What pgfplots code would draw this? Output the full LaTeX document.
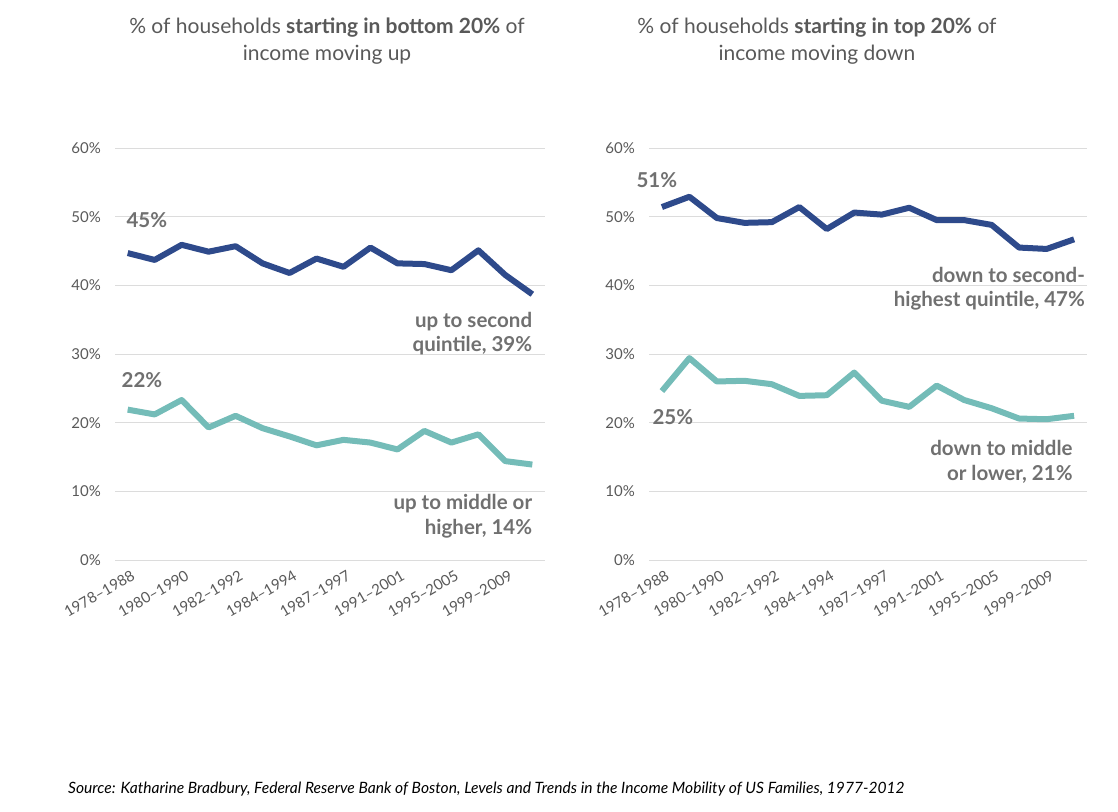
\documentclass[border=0pt]{standalone}
\usepackage{fontspec}
\setmainfont{Lato}
\usepackage{pgfplots}
\usepackage{pgfplotstable}
\pgfplotsset{compat=1.18}

\definecolor{darkblue}{HTML}{2E4A8B}
\definecolor{tealline}{HTML}{74BCB8}
\definecolor{txt}{HTML}{595959}
\definecolor{anno}{HTML}{707070}
\definecolor{gridc}{HTML}{DCDCDC}

% x = period index (0 = 1978-1988 ... 15)
\pgfplotstableread{
x  up2   upmid
0  44.7  21.9
1  43.7  21.2
2  45.9  23.3
3  44.9  19.3
4  45.7  21.0
5  43.2  19.2
6  41.8  18.0
7  43.9  16.7
8  42.7  17.5
9  45.5  17.1
10 43.2  16.1
11 43.1  18.8
12 42.2  17.1
13 45.1  18.3
14 41.5  14.4
15 38.7  13.9
}\bottomdata

\pgfplotstableread{
x  down2  downmid
0  51.4   24.6
1  52.9   29.4
2  49.8   26.0
3  49.1   26.1
4  49.2   25.6
5  51.4   23.9
6  48.2   24.0
7  50.6   27.3
8  50.3   23.2
9  51.3   22.3
10 49.5   25.4
11 49.5   23.3
12 48.8   22.1
13 45.5   20.6
14 45.3   20.5
15 46.7   21.0
}\topdata

\tikzset{
  anno/.style={text=anno, font=\fontsize{20.5bp}{24.5bp}\selectfont\bfseries, inner sep=0pt},
}

\pgfplotsset{
  panel/.style={
    scale only axis,
    height=412bp,
    ymin=0, ymax=60,
    xmin=-0.47, xmax=15.47,
    clip=false,
    axis line style={draw=none},
    tick style={draw=none},
    ymajorgrids,
    major grid style={gridc, line width=1bp},
    ytick={0,10,20,30,40,50,60},
    yticklabels={0\%,10\%,20\%,30\%,40\%,50\%,60\%},
    xtick={0,2,4,6,8,10,12,14},
    xticklabels={1978--1988,1980--1990,1982--1992,1984--1994,1987--1997,1991--2001,1995--2005,1999--2009},
    x tick label style={rotate=30, anchor=east, inner sep=0pt, yshift=-15bp, xshift=-2bp},
    y tick label style={inner sep=1bp, xshift=-13bp},
    tick label style={text=txt, font=\fontsize{15bp}{17bp}\selectfont},
    every axis plot/.append style={line width=6bp, line join=round, no markers},
  },
}

\begin{document}
\begin{tikzpicture}
\path[use as bounding box] (0,0) rectangle (1118bp,-812bp);

\node[text=txt, align=center, font=\fontsize{21bp}{27bp}\selectfont] at (327bp,-41.5bp)
  {\% of households \textbf{starting in bottom 20\%} of\\income moving up};
\node[text=txt, align=center, font=\fontsize{21bp}{27bp}\selectfont] at (817bp,-41.5bp)
  {\% of households \textbf{starting in top 20\%} of\\income moving down};

\begin{axis}[panel, width=430bp, at={(115bp,-560bp)}, anchor=south west]
  \addplot[darkblue] table[x=x, y=up2] {\bottomdata};
  \addplot[tealline] table[x=x, y=upmid] {\bottomdata};
  \node[anno, anchor=west] at (axis cs:-0.05,49.5) {45\%};
  \node[anno, anchor=east, align=right] at (axis cs:15,33.0) {up to second\\quintile, 39\%};
  \node[anno, anchor=west] at (axis cs:-0.23,26.2) {22\%};
  \node[anno, anchor=east, align=right] at (axis cs:15,6.4) {up to middle or\\higher, 14\%};
\end{axis}

\begin{axis}[panel, width=438bp, at={(649bp,-560bp)}, anchor=south west]
  \addplot[darkblue] table[x=x, y=down2] {\topdata};
  \addplot[tealline] table[x=x, y=downmid] {\topdata};
  \node[anno, anchor=west] at (axis cs:-0.93,55.3) {51\%};
  \node[anno, anchor=east, align=right] at (axis cs:15.4,39.5) {down to second-\\highest quintile, 47\%};
  \node[anno, anchor=west] at (axis cs:-0.35,20.8) {25\%};
  \node[anno, anchor=east, align=right] at (axis cs:14.95,14.3) {down to middle\\or lower, 21\%};
\end{axis}

\node[anchor=base west, inner sep=0pt, font=\fontsize{15.6bp}{18bp}\selectfont\itshape] at (68bp,-793bp)
  {Source: Katharine Bradbury, Federal Reserve Bank of Boston, Levels and Trends in the Income Mobility of US Families, 1977-2012};
\end{tikzpicture}
\end{document}
